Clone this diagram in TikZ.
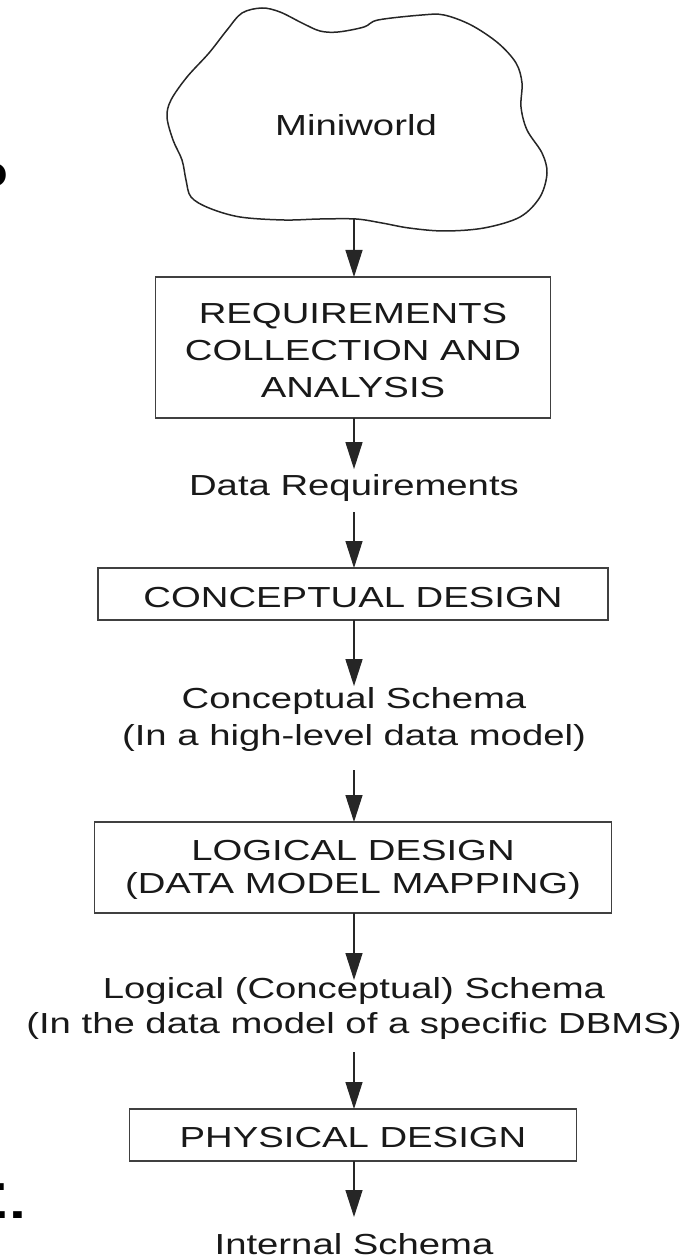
\documentclass[tikz,border=0pt]{standalone}
\usepackage{fontspec}
\setmainfont{Liberation Sans}
\usepackage{graphicx}
\usetikzlibrary{arrows.meta}
\newcommand{\wl}[1]{\scalebox{1.32}[1]{\begin{tabular}[t]{@{}c@{}}#1\end{tabular}}}
\newcommand{\wf}[1]{\scalebox{1.32}[1]{#1}}
\begin{document}
\begin{tikzpicture}[x=1pt,y=-1pt,
  every node/.style={font=\fontsize{29}{37}\selectfont, text=black!90, inner sep=0pt, outer sep=0pt},
  stage/.style={draw=black!75, line width=1.6pt},
  lbl/.style={anchor=base},
  frag/.style={anchor=base east, font=\bfseries\fontsize{46}{46}\selectfont, text=black},
  arr/.style={draw=black!85, line width=1.4pt, -{Triangle[length=27pt,width=17pt]}},
]
\useasboundingbox (0,0) rectangle (693,1257);
% cloud
\draw[line width=1.5pt, draw=black!85] plot[smooth cycle, tension=0.55] coordinates {
 (262,8) (280,12) (302,23) (320,31) (338,32) (364,27) (378,20) (422,15) (444,15)
 (471,25) (498,43) (516,63) (522,83) (521,107) (527,130) (542,153) (547,173)
 (540,197) (520,217) (484,228) (444,231) (409,228) (382,223) (356,219) (320,219)
 (284,220) (240,217) (209,208) (191,197) (186,180) (182,160) (173,140) (167,117)
 (171,100) (187,77) (209,53) (227,30) (242,13)};
\node[lbl] (mini) at (356,136) {\wl{Miniworld}};
\coordinate (cloudb) at (354,219);

\node[stage, minimum width=395pt, minimum height=141pt] (req) at (353,347.5) {};
\node[lbl] (reqt) at (353,323) {\wl{REQUIREMENTS\\COLLECTION AND\\ANALYSIS}};
\node[lbl] (dreq) at (354,495) {\wl{Data Requirements}};
\node[stage, minimum width=510pt, minimum height=52pt] (con) at (353,594) {};
\node[lbl] (cont) at (353,607) {\wl{CONCEPTUAL DESIGN}};
\node[lbl] (csch) at (354,708) {\wl{Conceptual Schema\\(In a high-level data model)}};
\node[stage, minimum width=517pt, minimum height=91pt] (log) at (353,867.5) {};
\node[lbl] (logt) at (353,860) {\fontsize{29}{33}\selectfont\wl{LOGICAL DESIGN\\(DATA MODEL MAPPING)}};
\node[lbl] (lsch) at (354,998) {\fontsize{29}{35}\selectfont\wl{Logical (Conceptual) Schema\\(In the data model of a specific DBMS)}};
\node[stage, minimum width=447pt, minimum height=52pt] (phy) at (353,1135) {};
\node[lbl] (phyt) at (353,1147) {\wl{PHYSICAL DESIGN}};
\node[lbl] (int) at (354,1254) {\wf{Internal Schema}};

\draw[arr] (cloudb) -- (cloudb |- req.north);
\draw[arr] (req.south -| dreq.north) -- (dreq.north);
\draw[arr, shorten <=6pt] (dreq.south) -- (dreq.south |- con.north);
\draw[arr, shorten >=-4pt] (con.south -| csch.north) -- (csch.north);
\draw[arr, shorten <=14pt] (csch.south) -- (csch.south |- log.north);
\draw[arr, shorten >=-6.5pt] (log.south -| lsch.north) -- (lsch.north);
\draw[arr, shorten <=8.5pt] (lsch.south) -- (lsch.south |- phy.north);
\draw[arr, shorten >=16pt] (phy.south -| int.north) -- (int.north);

% cut-off fragments at the left edge
\node[frag] (fragA) at (9,188) {\wf{o}};
\node[frag] (fragB) at (8,1190) {\wf{.}};
\node[frag] (fragC) at (26,1218) {\wf{..}};
\end{tikzpicture}
\end{document}
